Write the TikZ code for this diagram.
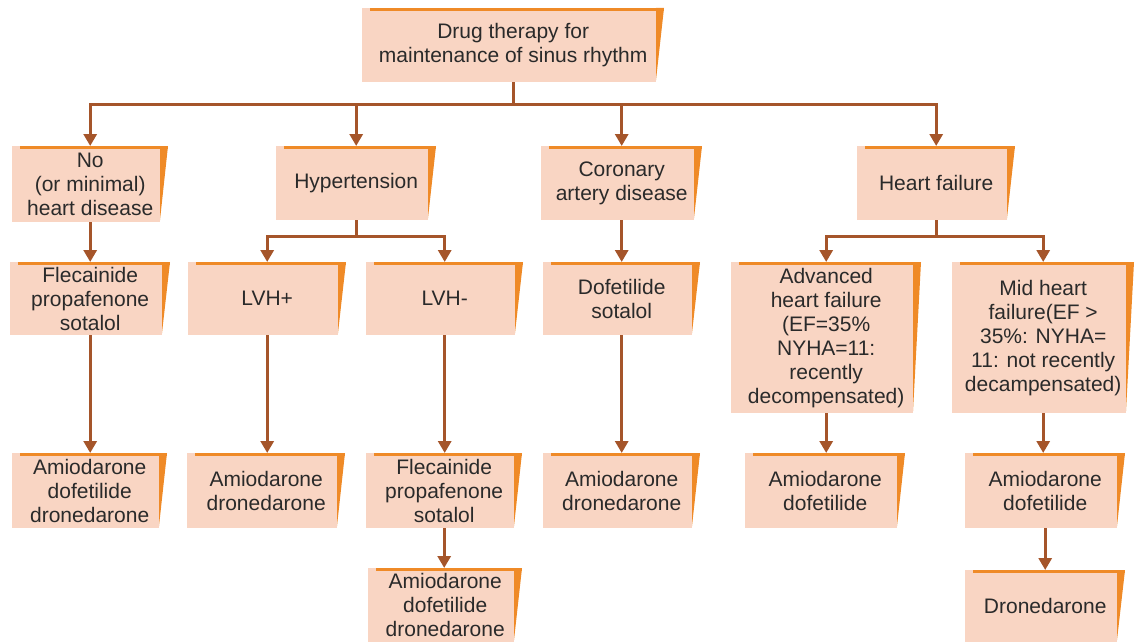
\documentclass[tikz,border=0pt]{standalone}
\usepackage{fontspec}
\setmainfont{Liberation Sans}
\usetikzlibrary{arrows.meta}
\definecolor{boxpink}{HTML}{F9D5C3}
\definecolor{boxorange}{HTML}{EF8A27}
\definecolor{connbrown}{HTML}{A5552A}
\definecolor{txt}{HTML}{2A2A2A}
\tikzset{
  tbox/.style={inner sep=0pt, align=center, anchor=north west, text=txt,
    font=\fontsize{21}{24}\selectfont},
  conn/.style={draw=connbrown, line width=3pt},
  arr/.style={conn, -{Triangle[width=13pt,length=12pt]}},
}
% name, left, top, right, bottom, text
\newcommand\tb[6]{%
  \fill[boxpink] (#2,#3) -- ({#4-8},#3) -- ({#4-8},#5) -- (#2,#5) -- cycle;
  \fill[boxorange] ({#2+8},#3) rectangle (#4,{#3+3});
  \fill[boxorange] ({#4-8},#3) -- (#4,#3) -- ({#4-8},{#5-2}) -- cycle;
  \node[tbox, minimum width={#4-#2}, minimum height={#5-#3}] (#1) at (#2,#3) {#6};
}
\begin{document}
\begin{tikzpicture}[x=1pt,y=-1pt]
\useasboundingbox (0,0) rectangle (1137,642);
\tb{top}{362}{8}{664}{82}{\fontsize{21}{22}\selectfont Drug therapy for\\maintenance of sinus rhythm}
\tb{no}{12}{146}{168}{222}{No\\(or minimal)\\heart disease}
\tb{hyp}{276}{146}{436}{220}{Hypertension}
\tb{cad}{541}{146}{702}{220}{Coronary\\artery disease}
\tb{hf}{857}{146}{1015}{220}{Heart failure}
\tb{fle}{10}{262}{170}{335}{Flecainide\\propafenone\\sotalol}
\tb{lvhp}{188}{262}{346}{335}{LVH+}
\tb{lvhm}{366}{262}{523}{335}{LVH-}
\tb{dof}{543}{262}{700}{335}{Dofetilide\\sotalol}
\tb{adv}{731}{262}{921}{413}{\fontsize{21}{24.5}\selectfont Advanced\\heart failure\\(EF=35\%\\NYHA=11:\\recently\\decompensated)}
\tb{mid}{952}{262}{1134}{413}{\fontsize{21}{24.5}\selectfont Mid heart\\failure(EF >\\35\%: NYHA=\\11: not recently\\decampensated)}
\tb{a1}{12}{453}{167}{528}{Amiodarone\\dofetilide\\dronedarone}
\tb{a2}{187}{453}{345}{528}{Amiodarone\\dronedarone}
\tb{a3}{366}{453}{522}{528}{Flecainide\\propafenone\\sotalol}
\tb{a4}{543}{453}{700}{528}{Amiodarone\\dronedarone}
\tb{a5}{745}{453}{905}{528}{Amiodarone\\dofetilide}
\tb{a6}{965}{453}{1125}{528}{Amiodarone\\dofetilide}
\tb{a7}{368}{568}{522}{642}{Amiodarone\\dofetilide\\dronedarone}
\tb{a8}{965}{570}{1125}{642}{Dronedarone}
% connectors
\path (top.south) ++(0,22) coordinate (bus);
\draw[conn] (top.south) -- (bus);
\draw[arr] (bus) -| (no.north);
\draw[arr] (bus) -| (hyp.north);
\draw[arr] (bus) -| (cad.north);
\draw[arr] (bus) -| (hf.north);
\path (hyp.south) ++(0,16) coordinate (hbus);
\draw[conn] (hyp.south) -- (hbus);
\draw[arr] (hbus) -| (lvhp.north);
\draw[arr] (hbus) -| (lvhm.north);
\path (hf.south) ++(0,16) coordinate (fbus);
\draw[conn] (hf.south) -- (fbus);
\draw[arr] (fbus) -| (adv.north);
\draw[arr] (fbus) -| (mid.north);
\draw[arr] (no.south) -- (no.south |- fle.north);
\draw[arr] (cad.south) -- (cad.south |- dof.north);
\draw[arr] (fle.south) -- (fle.south |- a1.north);
\draw[arr] (lvhp.south) -- (lvhp.south |- a2.north);
\draw[arr] (lvhm.south) -- (lvhm.south |- a3.north);
\draw[arr] (dof.south) -- (dof.south |- a4.north);
\draw[arr] (adv.south) -- (adv.south |- a5.north);
\draw[arr] (mid.south) -- (mid.south |- a6.north);
\draw[arr] (a3.south) -- (a3.south |- a7.north);
\draw[arr] (a6.south) -- (a6.south |- a8.north);
\end{tikzpicture}
\end{document}
